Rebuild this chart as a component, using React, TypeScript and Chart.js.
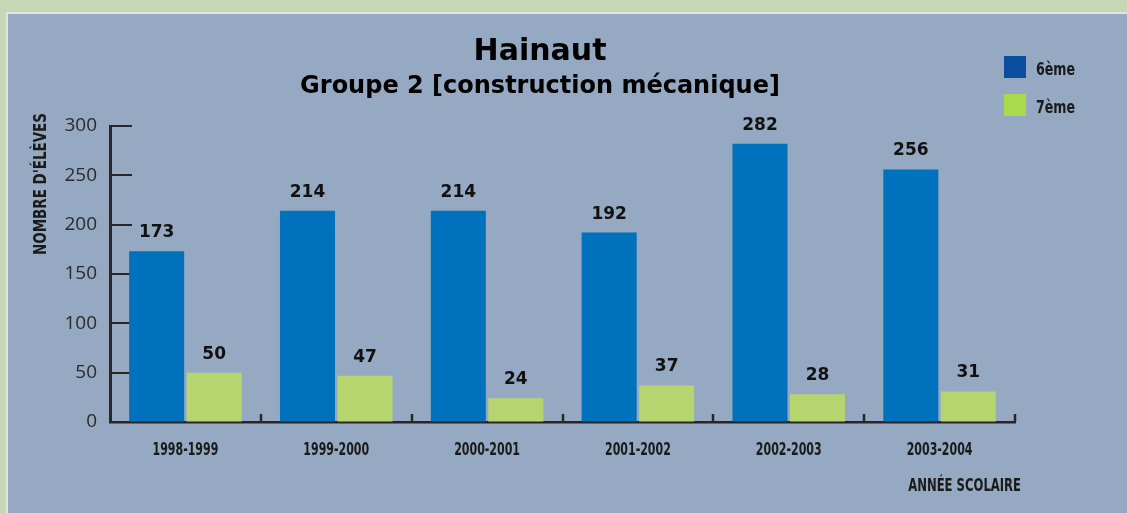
import React, { useEffect, useRef } from 'react';
import { Chart, registerables } from 'chart.js';

Chart.register(...registerables);

// ---- data ----
const categories = ['1998-1999', '1999-2000', '2000-2001', '2001-2002', '2002-2003', '2003-2004'];
const sixieme = [173, 214, 214, 192, 282, 256];
const septieme = [50, 47, 24, 37, 28, 31];
const seriesLabels = ['6ème', '7ème'];
const yMin = 0;
const yMax = 300;
const yStep = 50;
const titleText = 'Hainaut';
const subtitleText = 'Groupe 2 [construction mécanique]';
const yTitle = "NOMBRE D'ÉLÈVES";
const xTitle = 'ANNÉE SCOLAIRE';

// ---- styles ----
const NARROW = '"DejaVu Sans Condensed", "DejaVu Sans", sans-serif';
const WIDE = '"DejaVu Sans", Verdana, sans-serif';
const AXIS = '#2a2526';
const TEXT = '#1a1a1a';
const BLUE = '#0071bc';
const GREEN = '#b6d56f';
const LEGEND_BLUE = '#0a4f9f';
const LEGEND_GREEN = '#a9d94d';

function drawNarrow(
  ctx: CanvasRenderingContext2D,
  text: string,
  x: number,
  y: number,
  size: number,
  sx: number,
  align: CanvasTextAlign,
  rotation = 0
) {
  ctx.save();
  ctx.translate(x, y);
  if (rotation) ctx.rotate(rotation);
  ctx.scale(sx, 1);
  ctx.font = `bold ${size}px ${NARROW}`;
  ctx.fillStyle = TEXT;
  ctx.textAlign = align;
  ctx.textBaseline = 'alphabetic';
  ctx.fillText(text, 0, 0);
  ctx.restore();
}

const valueLabels = {
  id: 'valueLabels',
  afterDatasetsDraw(chart: any) {
    const ctx = chart.ctx;
    ctx.save();
    ctx.font = `bold 17px ${WIDE}`;
    ctx.fillStyle = '#111111';
    ctx.textAlign = 'center';
    ctx.textBaseline = 'alphabetic';
    chart.data.datasets.forEach((ds: any, di: number) => {
      const meta = chart.getDatasetMeta(di);
      meta.data.forEach((el: any, i: number) => {
        ctx.fillText(String(ds.data[i]), el.x, el.y - 14);
      });
    });
    ctx.restore();
  },
};

const innerTicks = {
  id: 'innerTicks',
  beforeDatasetsDraw(chart: any) {
    const ctx = chart.ctx;
    const y = chart.scales.y;
    const x = chart.scales.x;
    const area = chart.chartArea;
    ctx.save();
    ctx.strokeStyle = AXIS;
    ctx.lineWidth = 2;
    y.ticks.forEach((t: any) => {
      if (t.value === yMin) return;
      const py = Math.round(y.getPixelForValue(t.value));
      ctx.beginPath();
      ctx.moveTo(area.left, py);
      ctx.lineTo(area.left + 22, py);
      ctx.stroke();
    });
    ctx.lineWidth = 2.5;
    const n = categories.length;
    for (let i = 1; i <= n; i++) {
      const px = i < n ? (x.getPixelForValue(i - 1) + x.getPixelForValue(i)) / 2 : area.right;
      ctx.beginPath();
      ctx.moveTo(Math.round(px), area.bottom);
      ctx.lineTo(Math.round(px), area.bottom - 8);
      ctx.stroke();
    }
    ctx.restore();
  },
};

const axisTexts = {
  id: 'axisTexts',
  afterDraw(chart: any) {
    const ctx = chart.ctx;
    const x = chart.scales.x;
    const area = chart.chartArea;
    // category labels
    (chart.data.labels as string[]).forEach((lab, i) => {
      drawNarrow(ctx, lab, x.getPixelForValue(i), area.bottom + 33, 18, 0.68, 'center');
    });
    // x title
    drawNarrow(ctx, xTitle, area.right + 6, area.bottom + 69, 17, 0.76, 'right');
    // y title (rotated, reading bottom to top)
    drawNarrow(ctx, yTitle, area.left - 64, area.top + 129, 18, 0.83, 'left', -Math.PI / 2);
  },
};

const sideLegend = {
  id: 'sideLegend',
  afterDraw(chart: any, _args: any, opts: any) {
    const ctx = chart.ctx;
    chart.data.datasets.forEach((ds: any, i: number) => {
      const bx = opts.x;
      const by = opts.y + i * opts.gap;
      ctx.save();
      ctx.fillStyle = opts.colors[i];
      ctx.fillRect(bx, by, opts.box, opts.box);
      ctx.restore();
      drawNarrow(ctx, ds.label, bx + opts.box + 10, by + opts.box - 3, 18, 0.78, 'left');
    });
  },
};

export default function App() {
  const ref = useRef<HTMLCanvasElement>(null);

  useEffect(() => {
    document.body.style.margin = '0';
    const chart = new Chart(ref.current as HTMLCanvasElement, {
      type: 'bar',
      data: {
        labels: categories,
        datasets: [
          {
            label: seriesLabels[0],
            data: sixieme,
            backgroundColor: BLUE,
            borderWidth: 0,
            categoryPercentage: 0.7625,
            barPercentage: 0.957,
          },
          {
            label: seriesLabels[1],
            data: septieme,
            backgroundColor: GREEN,
            borderWidth: 0,
            categoryPercentage: 0.7625,
            barPercentage: 0.957,
          },
        ],
      },
      options: {
        responsive: false,
        animation: false,
        devicePixelRatio: 1,
        layout: { padding: { left: 65, right: 112, top: 0, bottom: 0 } },
        plugins: {
          legend: { display: false },
          tooltip: { enabled: false },
          title: {
            display: true,
            text: titleText,
            color: '#000000',
            font: { family: WIDE, size: 30, weight: 'bold' },
            padding: { top: 34, bottom: 0 },
          },
          subtitle: {
            display: true,
            text: subtitleText,
            color: '#000000',
            font: { family: WIDE, size: 24, weight: 'bold' },
            padding: { top: 2, bottom: 25.2 },
          },
          sideLegend: {
            x: 1004,
            y: 56,
            gap: 38,
            box: 22,
            colors: [LEGEND_BLUE, LEGEND_GREEN],
          },
        } as any,
        scales: {
          x: {
            offset: true,
            grid: { display: true, drawOnChartArea: false, drawTicks: false },
            border: { display: true, color: AXIS, width: 2.5 },
            ticks: { display: false },
            title: { display: false },
            afterFit: (s: any) => {
              s.height = 91;
            },
          },
          y: {
            min: yMin,
            max: yMax,
            grid: { display: true, drawOnChartArea: false, drawTicks: false },
            border: { display: true, color: AXIS, width: 3 },
            ticks: {
              stepSize: yStep,
              color: '#2b2b2b',
              font: { family: '"Open Sans", sans-serif', size: 19 },
              padding: 13,
            },
            title: { display: false },
            afterFit: (s: any) => {
              s.width = 45;
            },
          },
        },
      } as any,
      plugins: [innerTicks, valueLabels, axisTexts, sideLegend],
    });
    return () => chart.destroy();
  }, []);

  return (
    <div
      style={{
        position: 'fixed',
        left: 0,
        top: 0,
        width: 1127,
        height: 513,
        background: '#c5d7b6',
        overflow: 'hidden',
      }}
    >
      <div
        style={{
          position: 'absolute',
          left: 6,
          top: 12,
          width: 1121,
          height: 501,
          boxSizing: 'border-box',
          background: '#95a9c2',
          borderLeft: '2px solid #dde6e0',
          borderTop: '2px solid #dde6e0',
        }}
      />
      <canvas ref={ref} width={1127} height={513} style={{ position: 'absolute', left: 0, top: 0 }} />
    </div>
  );
}
